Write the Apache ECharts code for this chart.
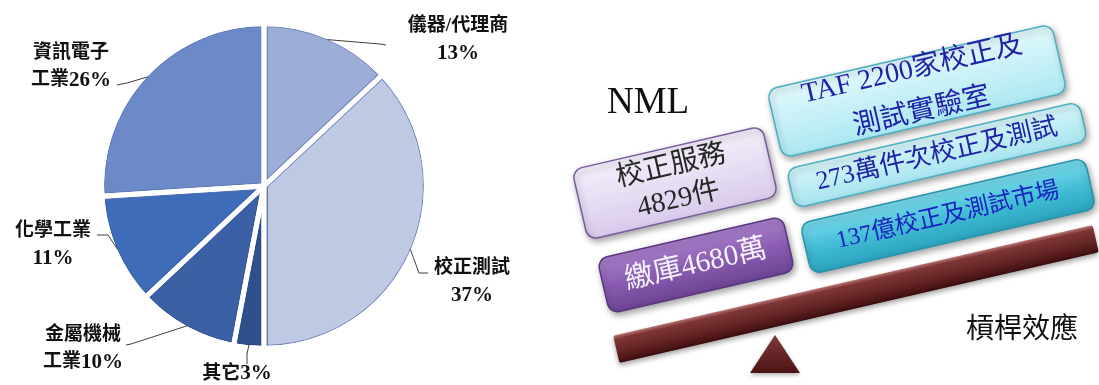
<!DOCTYPE html>
<html>
<head>
<meta charset="utf-8">
<script src="https://cdn.jsdelivr.net/npm/echarts@6/dist/echarts.min.js"></script>
<style>
  html, body { margin: 0; padding: 0; background: #ffffff; }
  #chart { width: 1099px; height: 385px; }
</style>
</head>
<body>
<div id="chart"></div>
<script>
// Market share by customer sector (%)
const categories = ['儀器/代理商', '校正測試', '其它', '金屬機械工業', '化學工業', '資訊電子工業'];
const shares = [13, 37, 3, 10, 11, 26];

// Leverage diagram texts
const nmlTitle = 'NML';
const nmlLines = [['校正服務', '4829件'], ['繳庫4680萬']];
const marketLines = [['TAF 2200家校正及', '測試實驗室'], ['273萬件次校正及測試'], ['137億校正及測試市場']];
const leverTitle = '槓桿效應';

// Styling
const sliceColors = ['#9caed8', '#bec9e4', '#30508c', '#3b60a6', '#3e6cb9', '#6d8ac8'];
const sliceOutlines = ['#6f83b9', '#6f83b9', '#2a4578', '#34558f', '#3860a3', '#5f79b5'];
const SERIF = '"Liberation Serif", "Times New Roman", "Noto Sans CJK TC", serif';
const CJK = '"Noto Sans CJK TC", "Liberation Serif", sans-serif';

// Where each pie label sits and how its guide line bends
const labelSpots = {
  '儀器/代理商': { x: 458, y: 40, bend: [[380, 44], [386, 45]] },
  '校正測試': { x: 472, y: 282, bend: [[419, 273], [428, 273]] },
  '其它': { x: 237, y: 374, bend: [[247, 354], [247, 364]] },
  '金屬機械工業': { x: 83, y: 349, bend: [[131, 344], [126, 345]] },
  '化學工業': { x: 53, y: 245, bend: [[108, 235], [97, 235]] },
  '資訊電子工業': { x: 71, y: 67, bend: [[127, 83], [117, 85]] }
};
const splitAt = { '金屬機械工業': 4, '資訊電子工業': 4 };

function labelText(name, value) {
  const pct = '{n|' + value + '%}';
  if (name === '其它') return '{c|' + name + '}' + pct;
  if (splitAt[name]) {
    return '{c|' + name.slice(0, splitAt[name]) + '}\n{c|' + name.slice(splitAt[name]) + '}' + pct;
  }
  return '{c|' + name + '}\n' + pct;
}

const pieData = categories.map((c, i) => ({
  name: c,
  value: shares[i],
  itemStyle: { color: sliceColors[i], borderColor: sliceOutlines[i] }
}));

const CENTER = [264, 186];
const R0 = 162.5;
const TILT = 13 * Math.PI / 180;

function tiltedBox(cx, cy, w, h, fillStops, stroke, lines, textFill, fontSize, lineHeight) {
  return {
    type: 'group',
    x: cx, y: cy,
    rotation: TILT,
    children: [
      {
        type: 'rect',
        shape: { x: -w / 2, y: -h / 2, width: w, height: h, r: 10 },
        style: {
          fill: new echarts.graphic.LinearGradient(0, 0, 0, 1, fillStops),
          stroke: stroke,
          lineWidth: 1.5,
          shadowBlur: 6,
          shadowOffsetX: 2,
          shadowOffsetY: 3,
          shadowColor: 'rgba(0,0,0,0.35)'
        }
      },
      {
        type: 'text',
        style: {
          text: lines.join('\n'),
          x: 0, y: 0,
          align: 'center',
          verticalAlign: 'middle',
          fill: textFill,
          fontSize: fontSize,
          fontFamily: SERIF,
          lineHeight: lineHeight
        }
      }
    ]
  };
}

const pieBase = {
  type: 'pie',
  center: CENTER,
  startAngle: 90,
  clockwise: true,
  silent: true,
  avoidLabelOverlap: false,
  emphasis: { disabled: true }
};

const chart = echarts.init(document.getElementById('chart'), null, { renderer: 'canvas' });

chart.setOption({
  backgroundColor: '#ffffff',
  animation: false,
  series: [
    Object.assign({}, pieBase, {
      // sectors with their thin outlines
      z: 2,
      radius: R0,
      data: pieData,
      itemStyle: { borderWidth: 7 },
      label: { show: false },
      labelLine: { show: false }
    }),
    Object.assign({}, pieBase, {
      // white separators between the sectors
      z: 3,
      radius: R0,
      data: shares.map((v, i) => ({ name: categories[i], value: v })),
      itemStyle: { color: 'rgba(0,0,0,0)', borderColor: '#ffffff', borderWidth: 5 },
      label: { show: false },
      labelLine: { show: false }
    }),
    Object.assign({}, pieBase, {
      // trims the outer rim so only a hairline outline remains
      z: 4,
      radius: [R0 - 2.5, R0 + 8],
      data: [{ name: 'rim', value: 1 }],
      itemStyle: { color: '#ffffff', borderWidth: 0 },
      label: { show: false },
      labelLine: { show: false }
    }),
    Object.assign({}, pieBase, {
      // labels and guide lines
      z: 5,
      radius: R0 - 3,
      data: shares.map((v, i) => ({ name: categories[i], value: v })),
      itemStyle: { color: 'rgba(0,0,0,0)', borderWidth: 0 },
      label: {
        show: true,
        position: 'outside',
        formatter: p => labelText(p.name, p.value),
        color: '#111111',
        fontFamily: SERIF,
        fontWeight: 'bold',
        lineHeight: 27,
        align: 'center',
        rich: {
          c: { fontFamily: SERIF, fontWeight: 'bold', fontSize: 19, color: '#111111', lineHeight: 27 },
          n: { fontFamily: SERIF, fontWeight: 'bold', fontSize: 21, color: '#111111', lineHeight: 27 }
        }
      },
      labelLine: {
        show: true,
        lineStyle: { color: '#404040', width: 1 }
      },
      labelLayout: function (params) {
        const name = categories[params.dataIndex];
        const spot = labelSpots[name];
        const start = params.labelLinePoints ? params.labelLinePoints[0] : null;
        const out = { x: spot.x, y: spot.y, align: 'center', verticalAlign: 'middle' };
        if (start) out.labelLinePoints = [start, spot.bend[0], spot.bend[1]];
        return out;
      }
    })
  ],
  graphic: {
    elements: [
      {
        type: 'text',
        x: 607, y: 103,
        style: {
          text: nmlTitle,
          fill: '#111111',
          fontSize: 37,
          fontFamily: SERIF,
          verticalAlign: 'middle'
        }
      },
      tiltedBox(675, 183, 195, 72,
        [{ offset: 0, color: '#f4effa' }, { offset: 1, color: '#d9cbec' }],
        '#7a5b9c', nmlLines[0], '#262626', 28, 34),
      tiltedBox(696, 265, 190, 56,
        [{ offset: 0, color: '#a880ca' }, { offset: 0.5, color: '#8a5db2' }, { offset: 1, color: '#6c4394' }],
        '#5a3680', nmlLines[1], '#f6f2fa', 29, 30),
      tiltedBox(917, 91, 292, 70,
        [{ offset: 0, color: '#e2f9fc' }, { offset: 1, color: '#ace8f2' }],
        '#4bb0c2', marketLines[0], '#1f22a8', 28, 43),
      tiltedBox(937, 155, 300, 40,
        [{ offset: 0, color: '#d8f6fa' }, { offset: 1, color: '#a6e4ef' }],
        '#4bb0c2', marketLines[1], '#1f22a8', 26, 30),
      tiltedBox(948, 216, 292, 52,
        [{ offset: 0, color: '#7cdbec' }, { offset: 0.5, color: '#44bfd7' }, { offset: 1, color: '#2aa2bd' }],
        '#2a93ab', marketLines[2], '#1a22c0', 24, 30),
      {
        // lever beam
        type: 'rect',
        x: 856, y: 294,
        rotation: TILT,
        shape: { x: -246, y: -14, width: 492, height: 28, r: 2 },
        style: {
          fill: new echarts.graphic.LinearGradient(0, 0, 0, 1, [
            { offset: 0, color: '#b87474' },
            { offset: 0.15, color: '#7e3636' },
            { offset: 0.55, color: '#672626' },
            { offset: 0.9, color: '#4a1414' },
            { offset: 1, color: '#360a0a' }
          ]),
          shadowBlur: 5,
          shadowOffsetY: 3,
          shadowColor: 'rgba(0,0,0,0.35)'
        }
      },
      {
        // fulcrum
        type: 'polygon',
        shape: { points: [[775, 335], [750, 373], [800, 373]] },
        style: {
          fill: new echarts.graphic.LinearGradient(0, 0, 0, 1, [
            { offset: 0, color: '#7e3838' },
            { offset: 1, color: '#4c1414' }
          ]),
          shadowBlur: 4,
          shadowOffsetY: 2,
          shadowColor: 'rgba(0,0,0,0.3)'
        }
      },
      {
        type: 'text',
        x: 1022, y: 327,
        style: {
          text: leverTitle,
          fill: '#111111',
          fontSize: 28,
          fontFamily: CJK,
          align: 'center',
          verticalAlign: 'middle'
        }
      }
    ]
  }
});
</script>
</body>
</html>
